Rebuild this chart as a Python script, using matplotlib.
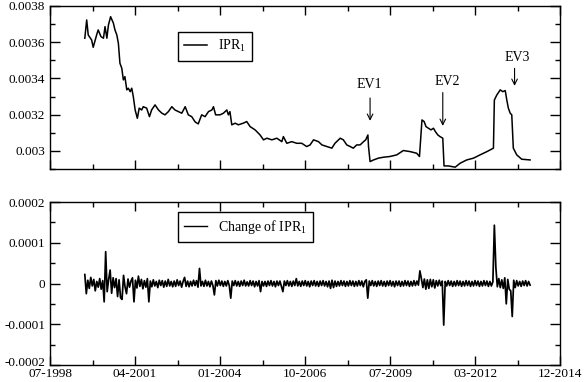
import numpy as np
import matplotlib
matplotlib.use('Agg')
import matplotlib.pyplot as plt
from matplotlib.ticker import FixedLocator
from matplotlib.transforms import ScaledTranslation

plt.rcParams['font.family'] = ['Liberation Serif', 'DejaVu Serif']
plt.rcParams['mathtext.fontset'] = 'custom'
plt.rcParams['mathtext.rm'] = 'Liberation Serif'
plt.rcParams['mathtext.it'] = 'Liberation Serif:italic'

# IPR_1 series (decimal year, value in units of 1e-3)
ipr_years = [1999.62, 1999.68, 1999.73, 1999.84, 1999.89, 2000.00, 2000.05, 2000.14, 2000.22, 2000.27,
             2000.33, 2000.38, 2000.45, 2000.54, 2000.59, 2000.65, 2000.70, 2000.75, 2000.81, 2000.86,
             2000.91, 2000.97, 2001.02, 2001.08, 2001.13, 2001.18, 2001.24, 2001.31, 2001.37, 2001.45,
             2001.50, 2001.61, 2001.70, 2001.77, 2001.88, 2001.99, 2002.10, 2002.20, 2002.31, 2002.42,
             2002.52, 2002.63, 2002.74, 2002.85, 2002.95, 2003.06, 2003.17, 2003.27, 2003.38, 2003.49,
             2003.60, 2003.71, 2003.76, 2003.83, 2003.97, 2004.08, 2004.19, 2004.24, 2004.29, 2004.35,
             2004.46, 2004.56, 2004.72, 2004.83, 2004.94, 2005.10, 2005.26, 2005.37, 2005.48, 2005.64,
             2005.80, 2005.96, 2006.01, 2006.12, 2006.28, 2006.44, 2006.60, 2006.76, 2006.87, 2006.98,
             2007.14, 2007.25, 2007.41, 2007.57, 2007.67, 2007.84, 2007.94, 2008.05, 2008.16, 2008.26,
             2008.37, 2008.48, 2008.59, 2008.66, 2008.73, 2008.75, 2008.80, 2008.91, 2009.07, 2009.23,
             2009.44, 2009.66, 2009.87, 2010.09, 2010.30, 2010.39, 2010.47, 2010.54, 2010.60, 2010.68,
             2010.76, 2010.84, 2010.90, 2010.98, 2011.05, 2011.14, 2011.18, 2011.32, 2011.54, 2011.70,
             2011.91, 2012.13, 2012.34, 2012.56, 2012.77, 2012.80, 2012.88, 2012.99, 2013.07, 2013.15,
             2013.20, 2013.25, 2013.31, 2013.36, 2013.41, 2013.52, 2013.68, 2013.95]
ipr_values = [3.622, 3.723, 3.640, 3.612, 3.572, 3.640, 3.668, 3.631, 3.622, 3.686,
              3.622, 3.695, 3.741, 3.705, 3.668, 3.640, 3.594, 3.484, 3.456, 3.392,
              3.410, 3.337, 3.346, 3.327, 3.346, 3.300, 3.226, 3.180, 3.236, 3.226,
              3.244, 3.236, 3.189, 3.226, 3.254, 3.226, 3.208, 3.199, 3.217, 3.244,
              3.226, 3.217, 3.208, 3.244, 3.199, 3.189, 3.160, 3.149, 3.199, 3.189,
              3.217, 3.226, 3.244, 3.199, 3.199, 3.208, 3.226, 3.199, 3.217, 3.144,
              3.153, 3.144, 3.153, 3.162, 3.134, 3.116, 3.088, 3.061, 3.070, 3.061,
              3.070, 3.051, 3.079, 3.042, 3.051, 3.042, 3.042, 3.024, 3.033, 3.061,
              3.051, 3.033, 3.024, 3.015, 3.042, 3.070, 3.061, 3.033, 3.024, 3.015,
              3.033, 3.033, 3.051, 3.061, 3.088, 3.024, 2.941, 2.950, 2.960, 2.965,
              2.969, 2.978, 3.002, 2.996, 2.987, 2.969, 3.171, 3.162, 3.134, 3.125,
              3.116, 3.125, 3.107, 3.088, 3.079, 3.070, 2.917, 2.917, 2.910, 2.932,
              2.950, 2.960, 2.978, 2.996, 3.015, 3.281, 3.309, 3.337, 3.327, 3.333,
              3.281, 3.236, 3.208, 3.199, 3.015, 2.978, 2.954, 2.950]

# Change of IPR_1 (value in units of 1e-6), regularly sampled between first and last date
change_first, change_last = 1999.62, 2013.95
change_values = [
    22, -25, 8, -12, 15, -6, 10, -18, 5, -9, 12, -14, 7, -45, 78, -20, 10, 33, -24, 14,
    -10, 12, -32, 9, -35, -39, 20, -8, -25, 11, -9, 6, 14, -45, 8, -11, 18, -7, 10, -13,
    7, -9, 12, -45, 6, -8, 9, -6, 5, -10, 8, -5, 7, -9, 6, -7, 10, -6, 5, -8,
    6, -7, 9, -5, 6, -9, 5, 15, -7, 6, -8, 5, -6, 8, -5, 7, -9, 37, -6, 5,
    -7, 8, -6, 5, -8, 6, -5, -28, 7, -6, 8, -5, 6, -7, 5, -6, 7, -5, -36, 6,
    -5, 7, -6, 5, -7, 6, -5, 8, -6, 4, -6, 7, -5, 6, -8, 5, -6, 7, -20, 5,
    -6, 5, -7, 6, -5, 7, -6, 5, -8, 6, -5, 6, -7, -20, 6, -5, 7, -6, 5, -7,
    6, -5, 12, -6, 5, -7, 6, -5, 7, -6, 5, -8, 6, -5, 7, -6, 5, -7, 6, -5,
    7, -6, 5, -8, 6, -12, 8, -10, 6, -7, 5, -6, 7, -5, 6, -7, 5, -6, 7, -5,
    6, -7, 5, -6, 7, -5, 6, -8, 5, 9, -36, 6, -5, 7, -6, 5, -7, 6, -5, 7,
    -6, 5, -7, 6, -5, 7, -6, 5, -8, 6, -5, 6, -7, 5, -6, 7, -5, 6, -7, 5,
    -6, 7, -5, 6, -4, 31, 12, -10, 11, -14, 9, -12, 10, -8, 9, -11, 7, -6, 8, -5,
    6, -102, 5, -6, 7, -5, 6, -7, 5, -6, 7, -5, 6, -7, 5, -6, 7, -5, 6, -7,
    5, -6, 7, -5, 6, -7, 5, -6, 7, -5, 6, -7, 5, -6, 4, 143, 40, -8, 12, -10,
    9, -12, 14, -50, 10, -14, -18, -81, 8, -10, 7, -6, 5, -7, 6, -5, 7, -6, 5, -4,
]

x_tick_labels = ['07-1998', '04-2001', '01-2004', '10-2006', '07-2009', '03-2012', '12-2014']
top_ytick_labels = ['0.003', '0.0032', '0.0034', '0.0036', '0.0038']
bottom_ytick_labels = ['-0.0002', '-0.0001', '0', '0.0001', '0.0002']

events = ['EV1', 'EV2', 'EV3']

ipr_years = np.array(ipr_years)
ipr_values = np.array(ipr_values) * 1e-3
change_values = np.array(change_values) * 1e-6
change_years = np.linspace(change_first, change_last, len(change_values))

x_min, x_max = 1998.5, 1998.5 + 16.4167
x_major = np.linspace(x_min, x_max, 7)
x_minor = (x_major[:-1] + x_major[1:]) / 2

fig = plt.figure(figsize=(5.85, 3.82), dpi=100)
ax_top = fig.add_axes([0.0855, 0.5576, 0.872, 0.4267])
ax_bot = fig.add_axes([0.0855, 0.0445, 0.872, 0.4267])


def style_axis(ax):
    ax.set_xlim(x_min, x_max)
    ax.xaxis.set_major_locator(FixedLocator(x_major))
    ax.xaxis.set_minor_locator(FixedLocator(x_minor))
    ax.tick_params(which='both', direction='in', top=True, right=True, width=1.0,
                   labelsize=9.5, colors='black')
    ax.tick_params(axis='x', which='major', length=6.2, pad=2.5)
    ax.tick_params(axis='y', which='major', length=7.5)
    ax.tick_params(which='minor', length=3.8)
    for sp in ax.spines.values():
        sp.set_linewidth(1.0)


# top panel
ax_top.plot(ipr_years, ipr_values, color='black', lw=1.1, label='IPR$_1$')
style_axis(ax_top)
ax_top.set_ylim(0.0029, 0.0038)
ax_top.yaxis.set_major_locator(FixedLocator([0.003, 0.0032, 0.0034, 0.0036, 0.0038]))
ax_top.yaxis.set_minor_locator(FixedLocator([0.0029, 0.0031, 0.0033, 0.0035, 0.0037]))
ax_top.set_yticklabels(top_ytick_labels)
ax_top.set_xticklabels([])

leg = ax_top.legend(loc='upper left', bbox_to_anchor=(0.251, 0.84), fancybox=False,
                    edgecolor='black', framealpha=1, handlelength=1.6, fontsize=10,
                    borderpad=0.45, borderaxespad=0)
leg.get_frame().set_linewidth(1.0)

# event arrows: (arrow x, tip, tail, text x, text y)
ev_pos = [(2008.80, 3.166e-3, 3.292e-3, 2008.77, 3.364e-3),
          (2011.14, 3.138e-3, 3.322e-3, 2011.28, 3.382e-3),
          (2013.45, 3.359e-3, 3.456e-3, 2013.53, 3.515e-3)]
for name, (ax_x, tip, tail, tx, ty) in zip(events, ev_pos):
    ax_top.annotate('', xy=(ax_x, tip), xytext=(ax_x, tail),
                    arrowprops=dict(arrowstyle='->', color='black', lw=0.8,
                                    shrinkA=0, shrinkB=0))
    ax_top.text(tx, ty, name, ha='center', va='center', fontsize=10)

# bottom panel
ax_bot.plot(change_years, change_values, color='black', lw=1.25, label='Change of IPR$_1$')
style_axis(ax_bot)
ax_bot.set_ylim(-0.0002, 0.0002)
ax_bot.yaxis.set_major_locator(FixedLocator([-0.0002, -0.0001, 0, 0.0001, 0.0002]))
ax_bot.yaxis.set_minor_locator(FixedLocator([-0.00015, -0.00005, 0.00005, 0.00015]))
ax_bot.set_yticklabels(bottom_ytick_labels)
ax_bot.set_xticklabels(x_tick_labels)

# lift the lowest y label a touch so it clears the first date label
low_lbl = ax_bot.get_yticklabels()[0]
low_lbl.set_transform(low_lbl.get_transform() + ScaledTranslation(0, 2.5 / 72, fig.dpi_scale_trans))

leg2 = ax_bot.legend(loc='upper left', bbox_to_anchor=(0.251, 0.94), fancybox=False,
                     edgecolor='black', framealpha=1, handlelength=1.6, fontsize=10,
                     borderpad=0.45, borderaxespad=0)
leg2.get_frame().set_linewidth(1.0)
for line in leg2.get_lines():
    line.set_linewidth(1.0)

fig.savefig('out.png', dpi=100)
